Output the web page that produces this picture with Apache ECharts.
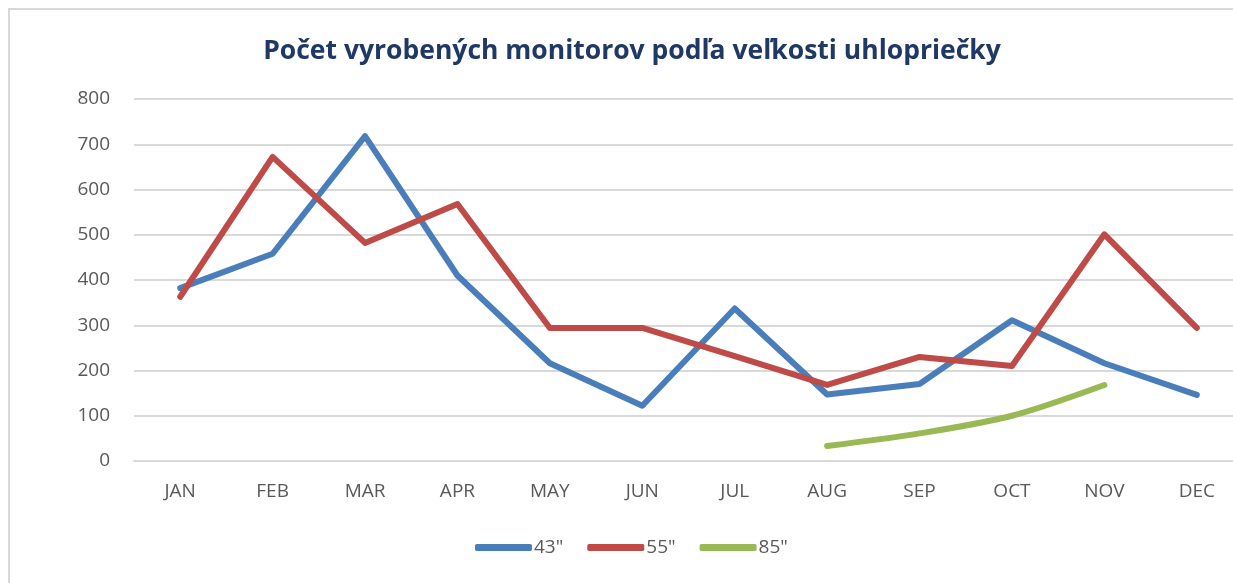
<!DOCTYPE html>
<html>
<head>
<meta charset="utf-8">
<script src="https://cdn.jsdelivr.net/npm/echarts@6/dist/echarts.min.js"></script>
<style>
  html, body { margin: 0; padding: 0; background: #fff; overflow: hidden; }
  .frame {
    position: absolute; left: 8px; top: 8px;
    width: 1260px; height: 600px;
    border: 2px solid #d9d9d9;
  }
  #chart { position: absolute; left: 0; top: 0; width: 1250px; height: 583px; }
</style>
</head>
<body>
<div class="frame"></div>
<div id="chart"></div>
<script>
const months = ['JAN', 'FEB', 'MAR', 'APR', 'MAY', 'JUN', 'JUL', 'AUG', 'SEP', 'OCT', 'NOV', 'DEC']
const size43 = [382, 458, 718, 410, 216, 122, 337, 147, 170, 311, 216, 146]
const size55 = [363, 672, 482, 568, 294, 294, 232, 168, 230, 210, 501, 294]
const size85 = [null, null, null, null, null, null, null, 33, 61, 100, 168, null]

const chart = echarts.init(document.getElementById('chart'))

const lineSeries = (name, data, color, smooth) => ({
  name,
  type: 'line',
  data,
  smooth,
  symbol: 'none',
  connectNulls: false,
  lineStyle: { color, width: 6, cap: 'round', join: 'round' },
  itemStyle: { color }
})

chart.setOption({
  animation: false,
  backgroundColor: 'transparent',
  title: {
    text: 'Počet vyrobených monitorov podľa veľkosti uhlopriečky',
    left: 627,
    textAlign: 'center',
    top: 33,
    textStyle: {
      color: '#1f3864',
      fontFamily: 'Open Sans',
      fontWeight: 'bold',
      fontSize: 26.5
    }
  },
  legend: {
    bottom: 21,
    left: 470,
    itemWidth: 57,
    itemHeight: 7,
    itemGap: 24,
    icon: 'roundRect',
    textStyle: { color: '#595959', fontFamily: 'Open Sans', fontSize: 19, padding: [0, 0, 0, -3] },
    data: ['43"', '55"', '85"']
  },
  grid: { left: 134, right: 7, top: 99, bottom: 122 },
  xAxis: {
    type: 'category',
    data: months,
    boundaryGap: true,
    axisLine: { lineStyle: { color: '#d9d9d9', width: 2 } },
    axisTick: { show: false },
    axisLabel: { color: '#595959', fontFamily: 'Open Sans', fontSize: 19, margin: 21 }
  },
  yAxis: {
    type: 'value',
    min: 0,
    max: 800,
    interval: 100,
    axisLine: { show: false },
    axisTick: { show: false },
    splitLine: { lineStyle: { color: '#d9d9d9', width: 2 } },
    axisLabel: { color: '#595959', fontFamily: 'Open Sans', fontSize: 19, margin: 24 }
  },
  series: [
    lineSeries('43"', size43, '#4a7ebb', false),
    lineSeries('55"', size55, '#be4b48', false),
    lineSeries('85"', size85, '#98b954', 0.3)
  ]
})
</script>
</body>
</html>
